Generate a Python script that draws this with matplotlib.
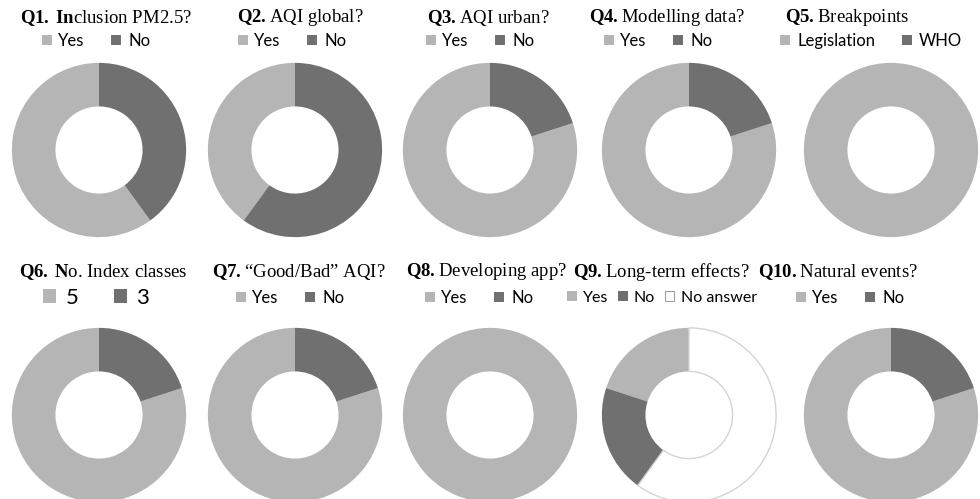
import matplotlib
matplotlib.use("Agg")
from matplotlib import pyplot as plt
from matplotlib.patches import Patch

plt.rcParams["mathtext.fontset"] = "custom"
plt.rcParams["mathtext.bf"] = "Liberation Serif:bold"
plt.rcParams["mathtext.rm"] = "Liberation Serif"

W, H = 980, 499

# survey answers (%)
q_bold = ["Q1.\\,In", "Q2.", "Q3.", "Q4.", "Q5.", "Q6.\\,N", "Q7.", "Q8.", "Q9.", "Q10."]
q_text = ["clusion PM2.5?", " AQI global?", " AQI urban?", " Modelling data?", " Breakpoints",
          "o. Index classes", " \u201cGood/Bad\u201d AQI?", " Developing app?", " Long-term effects?",
          " Natural events?"]
labels = [["Yes", "No"], ["Yes", "No"], ["Yes", "No"], ["Yes", "No"], ["Legislation", "WHO"],
          ["5", "3"], ["Yes", "No"], ["Yes", "No"], ["Yes", "No", "No answer"], ["Yes", "No"]]
values = [[60, 40], [40, 60], [80, 20], [80, 20], [100, 0],
          [80, 20], [80, 20], [100, 0], [20, 20, 60], [80, 20]]

light, dark, blank = "#b5b5b5", "#707070", "#ffffff"
colors = [light, dark, blank]

# layout in pixels
centers_x = [99, 295, 490, 689, 891, 99, 295, 490, 689, 891]
centers_y = [150] * 5 + [415] * 5
radius = 88
title_x = [106, 300, 488, 667, 847, 103, 299, 487, 661, 838]
title_y = [18] * 5 + [272] * 5
leg_x = [96, 292, 480, 658, 871, 96, 290, 479, 662, 850]
leg_y = [41] * 5 + [298] * 5

fig = plt.figure(figsize=(W / 100, H / 100), dpi=100)

for i in range(10):
    cx, cy = centers_x[i], centers_y[i]
    ax = fig.add_axes([(cx - radius) / W, 1 - (cy + radius) / H, 2 * radius / W, 2 * radius / H])
    vals = values[i]
    cols = colors[:len(vals)]
    wedges, _ = ax.pie(vals, colors=cols, startangle=90, counterclock=True, radius=1,
                       wedgeprops=dict(width=0.5, linewidth=0))
    for w, c in zip(wedges, cols):
        if c == blank:
            w.set_edgecolor("#d4d4d4")
            w.set_linewidth(1.0)
    ax.set_xlim(-1.01, 1.01)
    ax.set_ylim(-1.01, 1.01)
    ax.set_aspect("equal")
    ax.axis("off")

    title = r"$\mathbf{" + q_bold[i] + "}$" + q_text[i].lstrip()
    fig.text(title_x[i] / W, 1 - title_y[i] / H, title, fontsize=13.5,
             family="Liberation Serif", ha="center", va="center")

    handles = []
    for c in cols:
        if c == blank:
            handles.append(Patch(facecolor=blank, edgecolor="#a0a0a0", linewidth=0.8))
        else:
            handles.append(Patch(facecolor=c, edgecolor="none"))
    fs = 16 if i == 5 else 12
    if len(cols) == 3:
        fs = 11.5
    fig.legend(handles, labels[i], loc="center", ncol=len(cols),
               bbox_to_anchor=(leg_x[i] / W, 1 - leg_y[i] / H), frameon=False,
               prop=dict(family="Lato", size=fs), handlelength=0.6, handleheight=0.6,
               handletextpad=0.4, columnspacing=1.6 if len(cols) == 2 else 0.6,
               borderpad=0, borderaxespad=0)

fig.savefig("out.png", dpi=100)
